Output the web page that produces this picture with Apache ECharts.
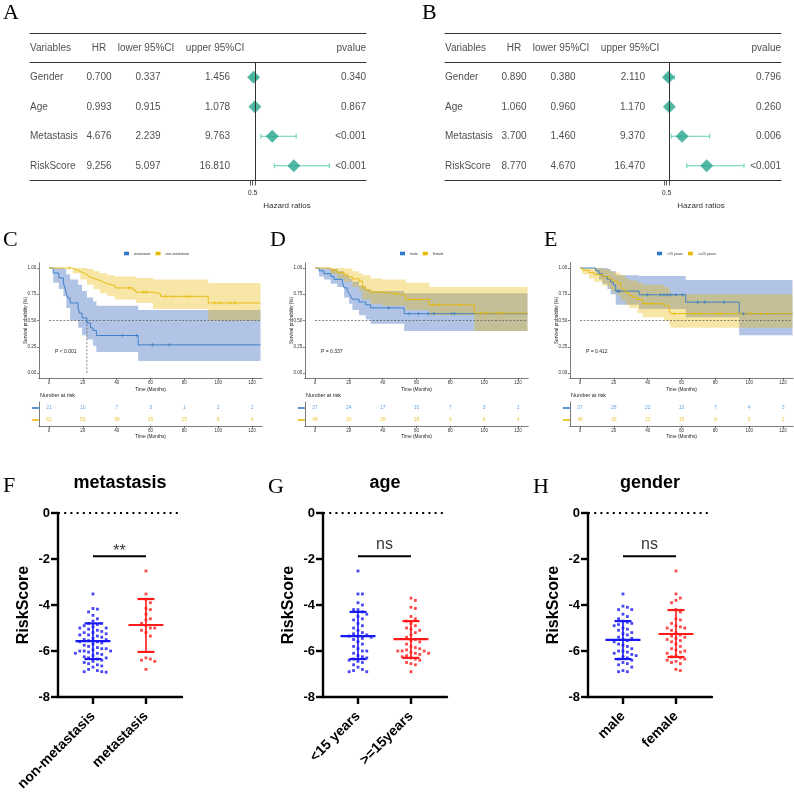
<!DOCTYPE html>
<html>
<head>
<meta charset="utf-8">
<title>Figure</title>
<script src="https://cdn.jsdelivr.net/npm/echarts@6.0.0/dist/echarts.min.js"></script>
<style>
html,body{margin:0;padding:0;background:#ffffff;}
#chart{width:794px;height:806px;}
</style>
</head>
<body>
<div id="chart"></div>
<script>
// ================= DATA =================
// Forest plots
const forestVars   = ['Gender', 'Age', 'Metastasis', 'RiskScore'];
const forestHeader = ['Variables', 'HR', 'lower 95%CI', 'upper 95%CI', 'pvalue'];
const hrA    = [0.700, 0.993, 4.676, 9.256];
const lowerA = [0.337, 0.915, 2.239, 5.097];
const upperA = [1.456, 1.078, 9.763, 16.810];
const pA     = ['0.340', '0.867', '<0.001', '<0.001'];
const hrB    = [0.890, 1.060, 3.700, 8.770];
const lowerB = [0.380, 0.960, 1.460, 4.670];
const upperB = [2.110, 1.170, 9.370, 16.470];
const pB     = ['0.796', '0.260', '0.006', '<0.001'];
const forestTicks = [0, 0.5, 1];
const forestTickLabels = [0.5];

// Kaplan-Meier: steps [time, survival]; bands [time, lower, upper]; censor marks [time, survival]
const kmTimeTicks = [0, 20, 40, 60, 80, 100, 120];
const kmSurvTicks = [0, 0.25, 0.5, 0.75, 1];
const kmHalf = 0.5;

const kmC_metaCurve  = [[0,1],[2.5,0.952],[5.8,0.905],[8.5,0.857],[9.5,0.81],[10.2,0.762],[11.2,0.714],[12.5,0.667],[17.2,0.619],[18,0.571],[19.5,0.524],[22.4,0.476],[24.5,0.429],[26,0.405],[28,0.357],[52.7,0.268],[125,0.268]];
const kmC_metaBand   = [[0,1,1],[2.5,0.86,1],[5.8,0.8,1],[8.5,0.73,0.99],[10.2,0.62,0.94],[12.5,0.5,0.89],[17.2,0.43,0.84],[19.5,0.36,0.78],[22.4,0.32,0.72],[26,0.26,0.68],[28,0.2,0.64],[52.7,0.115,0.6],[125,0.115,0.6]];
const kmC_metaCensor = [[43.4,0.357],[51.7,0.357],[61.1,0.268],[71,0.268]];
const kmC_nonCurve   = [[0,1],[14,0.984],[16,0.967],[18.5,0.95],[21,0.933],[22.5,0.917],[24,0.9],[26.5,0.883],[30,0.867],[32,0.85],[34.5,0.833],[38.9,0.81],[49.7,0.79],[51.3,0.77],[61.5,0.755],[65.9,0.73],[94.1,0.667],[125,0.667]];
const kmC_nonBand    = [[0,1,1],[14,0.95,1],[18.5,0.89,1],[22.5,0.84,0.99],[26.5,0.8,0.97],[30,0.76,0.95],[34.5,0.73,0.93],[38.9,0.7,0.92],[51.3,0.667,0.905],[61.5,0.61,0.89],[94.1,0.5,0.857],[125,0.5,0.857]];
const kmC_nonCensor  = [[12.2,1],[47.7,0.81],[56,0.77],[57.6,0.77],[68.8,0.73],[73.4,0.73],[81.3,0.73],[83.2,0.73],[98,0.667],[101,0.667],[107,0.667],[110,0.667]];
const kmC_median = 22.4;
const riskC_meta = [21, 10, 7, 3, 1, 1, 1];
const riskC_non  = [62, 53, 38, 25, 15, 8, 4];

const kmD_maleCurve  = [[0,1],[2.4,0.973],[5.3,0.946],[9.3,0.919],[11.2,0.892],[16.2,0.865],[17.2,0.811],[19.1,0.784],[20.1,0.757],[21.1,0.73],[22.1,0.703],[26,0.676],[30,0.649],[32.9,0.62],[52.7,0.565],[125.6,0.565]];
const kmD_maleBand   = [[0,1,1],[2.4,0.92,1],[5.3,0.89,1],[9.3,0.85,0.99],[13.2,0.82,0.97],[17.2,0.72,0.93],[20.1,0.66,0.9],[22.1,0.6,0.87],[26,0.55,0.83],[30,0.51,0.8],[32.9,0.47,0.78],[52.7,0.4,0.76],[125.6,0.4,0.76]];
const kmD_maleCensor = [[43.4,0.62],[55.6,0.565],[61.1,0.565],[66.9,0.565],[70.4,0.565],[80.9,0.565],[82.6,0.565]];
const kmD_femCurve   = [[0,1],[9.3,0.979],[13.2,0.958],[17.2,0.937],[19.1,0.917],[22.1,0.896],[26,0.875],[28,0.812],[30,0.79],[32.9,0.77],[39.8,0.755],[47.7,0.74],[53.6,0.7],[67.5,0.65],[94.1,0.57],[125.6,0.57]];
const kmD_femBand    = [[0,1,1],[9.3,0.94,1],[13.2,0.9,1],[17.2,0.87,0.995],[22.1,0.82,0.97],[26,0.78,0.95],[28,0.7,0.93],[32.9,0.66,0.9],[39.8,0.64,0.89],[53.6,0.6,0.86],[67.5,0.55,0.82],[94.1,0.4,0.82],[125.6,0.4,0.82]];
const kmD_femCensor  = [[47.7,0.755],[55.6,0.7],[58.6,0.7],[61.5,0.7],[69.4,0.65],[73.4,0.65],[85.2,0.65],[98,0.57],[101,0.57],[107.9,0.57],[110.5,0.57]];
const riskD_male = [37, 24, 17, 10, 7, 3, 1];
const riskD_fem  = [48, 30, 28, 18, 9, 6, 4];

const kmE_youngCurve  = [[0,1],[9.3,0.973],[11.2,0.946],[13.2,0.919],[16.2,0.892],[18.1,0.865],[19.7,0.838],[21.1,0.78],[34.9,0.745],[62.5,0.675],[94.1,0.565],[125.6,0.565]];
const kmE_youngBand   = [[0,1,1],[9.3,0.94,1],[11.2,0.89,1],[13.2,0.85,1],[16.2,0.8,0.99],[18.1,0.75,0.97],[21.1,0.65,0.93],[34.9,0.61,0.925],[62.5,0.53,0.885],[94.1,0.36,0.885],[125.6,0.36,0.885]];
const kmE_youngCensor = [[22.1,0.78],[23.1,0.78],[39.8,0.745],[47.7,0.745],[49.7,0.745],[51.7,0.745],[53.6,0.745],[56.6,0.745],[60.6,0.745],[69.4,0.675],[73.8,0.675],[85.2,0.675],[96.6,0.565]];
const kmE_oldCurve    = [[0,1],[1.4,0.979],[5.3,0.958],[8.3,0.937],[13.2,0.917],[17.2,0.896],[19.1,0.875],[22.1,0.854],[24.1,0.812],[25.1,0.79],[27,0.77],[29,0.74],[31,0.72],[34,0.7],[37,0.66],[49.7,0.64],[52.7,0.6],[53.6,0.565],[125.6,0.565]];
const kmE_oldBand     = [[0,1,1],[1.4,0.94,1],[5.3,0.9,1],[8.3,0.87,1],[13.2,0.83,0.99],[17.2,0.8,0.975],[19.1,0.77,0.96],[22.1,0.74,0.95],[24.1,0.69,0.93],[27,0.65,0.9],[29,0.62,0.88],[34,0.57,0.86],[37,0.53,0.84],[49.7,0.5,0.82],[52.7,0.46,0.79],[53.6,0.43,0.75],[125.6,0.43,0.75]];
const kmE_oldCensor   = [[38.9,0.66],[42.8,0.66],[55.6,0.565],[67.5,0.565],[71.4,0.565],[81.3,0.565],[83.2,0.565],[101,0.565],[106.9,0.565],[110.8,0.565]];
const riskE_young = [37, 28, 22, 13, 7, 4, 3];
const riskE_old   = [48, 30, 23, 15, 9, 5, 2];

// RiskScore dot plots
const catsF = ['non-metastasis', 'metastasis'];
const riskF_non  = [-3.52,-4.15,-4.18,-4.3,-4.45,-4.6,-4.7,-4.8,-4.8,-4.85,-4.9,-4.95,-5.0,-5.0,-5.05,-5.1,-5.15,-5.2,-5.2,-5.25,-5.3,-5.3,-5.35,-5.4,-5.45,-5.5,-5.5,-5.55,-5.6,-5.6,-5.65,-5.7,-5.75,-5.8,-5.85,-5.9,-5.9,-5.95,-6.0,-6.0,-6.0,-6.05,-6.1,-6.1,-6.15,-6.2,-6.25,-6.3,-6.3,-6.35,-6.4,-6.45,-6.5,-6.55,-6.6,-6.65,-6.7,-6.8,-6.85,-6.9,-6.9,-6.92];
const riskF_meta = [-2.52,-3.52,-3.75,-3.9,-4.15,-4.2,-4.4,-4.6,-4.65,-4.8,-4.9,-5.0,-5.0,-5.1,-5.2,-5.35,-6.3,-6.35,-6.4,-6.45,-6.8];
const meanF = [-5.57, -4.87];
const sdLoF = [-6.35, -6.04];
const sdHiF = [-4.8, -3.74];

const catsG = ['<15 years', '>=15years'];
const riskG_young = [-2.52,-3.52,-3.52,-3.9,-4.0,-4.2,-4.2,-4.3,-4.4,-4.5,-4.6,-4.65,-4.8,-4.9,-5.0,-5.1,-5.2,-5.25,-5.3,-5.35,-5.35,-5.4,-5.45,-5.5,-5.6,-5.7,-5.8,-5.9,-6.0,-6.0,-6.1,-6.2,-6.25,-6.3,-6.35,-6.4,-6.45,-6.5,-6.6,-6.7,-6.8,-6.85,-6.9,-6.9];
const riskG_old   = [-3.7,-3.8,-4.1,-4.15,-4.5,-4.6,-4.7,-4.8,-4.9,-5.0,-5.05,-5.1,-5.2,-5.3,-5.4,-5.5,-5.55,-5.6,-5.7,-5.8,-5.85,-5.9,-5.95,-6.0,-6.0,-6.0,-6.05,-6.1,-6.1,-6.15,-6.2,-6.25,-6.3,-6.35,-6.4,-6.5,-6.55,-6.6,-6.9];
const meanG = [-5.35, -5.48];
const sdLoG = [-6.35, -6.3];
const sdHiG = [-4.3, -4.7];

const catsH = ['male', 'female'];
const riskH_male   = [-3.52,-4.05,-4.1,-4.2,-4.2,-4.4,-4.5,-4.6,-4.7,-4.75,-4.8,-4.85,-4.9,-5.0,-5.05,-5.1,-5.2,-5.25,-5.3,-5.4,-5.45,-5.5,-5.55,-5.6,-5.7,-5.75,-5.8,-5.9,-6.0,-6.0,-6.05,-6.1,-6.15,-6.2,-6.25,-6.3,-6.35,-6.4,-6.5,-6.55,-6.6,-6.7,-6.85,-6.9,-6.9];
const riskH_female = [-2.52,-3.52,-3.7,-3.8,-3.9,-4.2,-4.3,-4.6,-4.65,-4.8,-4.9,-4.95,-5.0,-5.0,-5.1,-5.2,-5.3,-5.35,-5.4,-5.45,-5.5,-5.55,-5.6,-5.7,-5.8,-5.9,-5.95,-6.0,-6.05,-6.1,-6.2,-6.25,-6.3,-6.35,-6.4,-6.45,-6.5,-6.55,-6.8,-6.85];
const meanH = [-5.52, -5.26];
const sdLoH = [-6.35, -6.26];
const sdHiH = [-4.7, -4.22];

const sigLevel = -1.88;

// ================= LAYOUT / STYLE =================
const SANS = 'Liberation Sans, Arial, Helvetica, sans-serif';
const SERIF = 'Liberation Serif, Times New Roman, serif';
const TEAL = '#27a58c', TEAL_CI = '#62d0b6';
const KM_BLUE = '#3178c6', KM_BLUE_FILL = '#4472c4', KM_YEL = '#e7b800';
const RISK_BLUE = '#3d8edb';
const DOT_BLUE = '#1818f5', DOT_RED = '#ff1a1a';
const PLUS = 'path://M4,0H6V4H10V6H6V10H4V6H0V4H4Z';

const option = {
  animation: false,
  backgroundColor: '#ffffff',
  textStyle: { fontFamily: SANS },
  grid: [], xAxis: [], yAxis: [], series: [], legend: [],
  graphic: { elements: [] }
};
const GE = option.graphic.elements;
function txt(x, y, text, size, o) {
  o = o || {};
  const al = o.align || 'left';
  GE.push({ type: 'text', x: x, y: y, silent: true,
    style: { text: text, fontSize: size, fontFamily: o.family || SANS, fontWeight: o.weight || 'normal',
      fill: o.color || '#000', align: al, verticalAlign: 'middle', textAlign: al, textVerticalAlign: 'middle' } });
}
function addGrid(left, top, width, height) {
  option.grid.push({ left: left, top: top, width: width, height: height, containLabel: false, outerBoundsMode: 'none' });
  return option.grid.length - 1;
}
function addX(o) { option.xAxis.push(o); return option.xAxis.length - 1; }
function addY(o) { option.yAxis.push(o); return option.yAxis.length - 1; }
const NO = { show: false };

// ---------- Forest plots ----------
const colLayout = [
  { hx: 0,   ha: 'left',   vx: 0,   va: 'left' },
  { hx: 69,  ha: 'center', vx: 69,  va: 'center' },
  { hx: 116, ha: 'center', vx: 118, va: 'center' },
  { hx: 185, ha: 'center', vx: 200, va: 'right' },
  { hx: 336, ha: 'right',  vx: 336, va: 'right' }
];
function forestPanel(P) {
  const W = 336;
  const g1 = addGrid(P.left, 33, W, 147.5);
  const xt = addX({ gridIndex: g1, type: 'value', min: 0, max: W, position: 'top',
    axisLine: { show: true, onZero: false, lineStyle: { color: '#333', width: 1 } }, axisTick: NO, axisLabel: NO, splitLine: NO });
  const yt = addY({ gridIndex: g1, type: 'value', min: -0.5, max: 4.5, inverse: true, show: false });
  const colVals = [forestVars, P.hr.map(v => v.toFixed(3)), P.lo.map(v => v.toFixed(3)), P.up.map(v => v.toFixed(3)), P.p];
  colLayout.forEach((c, ci) => {
    const data = [{ name: forestHeader[ci], value: [c.hx, 0], label: { align: c.ha } }];
    colVals[ci].forEach((v, ri) => data.push({ name: v, value: [c.vx, ri + 1], label: { align: c.va } }));
    option.series.push({ type: 'scatter', xAxisIndex: xt, yAxisIndex: yt, symbolSize: 1, silent: true,
      itemStyle: { color: 'rgba(0,0,0,0)' }, data: data,
      label: { show: true, position: 'inside', verticalAlign: 'middle', formatter: p => p.name, fontSize: 10, color: '#222', fontFamily: SANS } });
  });
  const g2 = addGrid(P.left, 62.5, W, 118);
  const xmin = 1 - (P.zero - P.left) / P.ppu, xmax = 1 + (P.left + W - P.zero) / P.ppu;
  const xb = addX({ gridIndex: g2, type: 'value', min: xmin, max: xmax, position: 'bottom',
    axisLine: { show: true, onZero: false, lineStyle: { color: '#333', width: 1 } },
    axisTick: { show: true, customValues: forestTicks, length: 5, lineStyle: { color: '#333', width: 0.8 } },
    axisLabel: { show: true, customValues: forestTickLabels, fontSize: 7, color: '#333', margin: 9 }, splitLine: NO });
  addX({ gridIndex: g2, type: 'value', min: xmin, max: xmax, position: 'top',
    axisLine: { show: true, onZero: false, lineStyle: { color: '#333', width: 1 } }, axisTick: NO, axisLabel: NO, splitLine: NO });
  const yb = addY({ gridIndex: g2, type: 'value', min: 0.5, max: 4.5, inverse: true, show: false });
  option.series.push({ type: 'custom', xAxisIndex: xb, yAxisIndex: yb, silent: true, z: 2,
    data: forestVars.map((v, i) => [P.lo[i], i + 1, P.up[i]]), encode: { x: [0, 2], y: 1 },
    renderItem: (params, api) => {
      const a = api.coord([api.value(0), api.value(1)]);
      const b = api.coord([api.value(2), api.value(1)]);
      const s = { stroke: TEAL_CI, lineWidth: 1 };
      return { type: 'group', children: [
        { type: 'line', shape: { x1: a[0], y1: a[1], x2: b[0], y2: b[1] }, style: s },
        { type: 'line', shape: { x1: a[0], y1: a[1] - 2.5, x2: a[0], y2: a[1] + 2.5 }, style: s },
        { type: 'line', shape: { x1: b[0], y1: b[1] - 2.5, x2: b[0], y2: b[1] + 2.5 }, style: s } ] };
    },
    markLine: { silent: true, symbol: ['none', 'none'], label: NO, lineStyle: { color: '#333', type: 'solid', width: 1 }, data: [{ xAxis: 1 }] }
  });
  option.series.push({ type: 'scatter', xAxisIndex: xb, yAxisIndex: yb, silent: true, z: 4,
    symbol: 'diamond', symbolSize: 13, itemStyle: { color: TEAL },
    data: forestVars.map((v, i) => ({ name: v, value: [P.hr[i], i + 1] })) });
  txt(P.zero + 32, 206, 'Hazard ratios', 8, { align: 'center', color: '#333' });
}
forestPanel({ left: 30, zero: 255, ppu: 4.7, hr: hrA, lo: lowerA, up: upperA, p: pA });
forestPanel({ left: 445, zero: 669, ppu: 4.85, hr: hrB, lo: lowerB, up: upperB, p: pB });

// ---------- Kaplan-Meier panels ----------
const KM_PPU = 1.692, KM_TOP = 262.75, KM_H = 115.5;
function kmPanel(K) {
  const left = K.x0 - 6 * KM_PPU, width = 132 * KM_PPU;
  const axLine = { show: true, onZero: false, lineStyle: { color: '#222', width: 0.6 } };
  const tickSty = { color: '#222', width: 0.6 };
  const g = addGrid(left, KM_TOP, width, KM_H);
  const xi = addX({ gridIndex: g, type: 'value', min: -6, max: 126, axisLine: axLine,
    axisTick: { show: true, customValues: kmTimeTicks, length: 2, lineStyle: tickSty },
    axisLabel: { show: true, customValues: kmTimeTicks, fontSize: 4.5, color: '#333', margin: 2.5 }, splitLine: NO,
    name: 'Time (Months)', nameLocation: 'middle', nameGap: 8.5, nameMoveOverlap: false, nameTextStyle: { fontSize: 4.8, color: '#222' } });
  const yi = addY({ gridIndex: g, type: 'value', min: -0.05, max: 1.05, axisLine: axLine,
    axisTick: { show: true, customValues: kmSurvTicks, length: 2, lineStyle: tickSty },
    axisLabel: { show: true, customValues: kmSurvTicks, formatter: v => Number(v).toFixed(2), fontSize: 4.5, color: '#333', margin: 2.5 },
    splitLine: NO, name: 'Survival probability (%)', nameLocation: 'middle', nameGap: 11, nameMoveOverlap: false,
    nameTextStyle: { fontSize: 4.6, color: '#222' } });
  // confidence bands (step polygons through the axes' scales)
  K.groups.forEach(gr => {
    option.series.push({ type: 'custom', name: gr.name + ' CI', xAxisIndex: xi, yAxisIndex: yi, silent: true, z: 1, clip: true,
      data: gr.band, encode: { x: 0, y: [1, 2] },
      renderItem: (params, api) => {
        if (params.dataIndex !== 0) return null;
        const B = gr.band, pts = [];
        for (let i = 0; i < B.length - 1; i++) { pts.push(api.coord([B[i][0], B[i][2]])); pts.push(api.coord([B[i + 1][0], B[i][2]])); }
        for (let i = B.length - 2; i >= 0; i--) { pts.push(api.coord([B[i + 1][0], B[i][1]])); pts.push(api.coord([B[i][0], B[i][1]])); }
        return { type: 'polygon', shape: { points: pts }, style: { fill: gr.fill, opacity: gr.alpha } };
      } });
  });
  const endT = K.groups[0].curve[K.groups[0].curve.length - 1][0];
  const dash = { color: '#555', width: 0.7, type: [2, 1.6] };
  option.series.push({ type: 'line', xAxisIndex: xi, yAxisIndex: yi, symbol: 'none', silent: true, lineStyle: dash, z: 2,
    data: [[0, kmHalf], [endT, kmHalf]] });
  if (K.median != null) {
    option.series.push({ type: 'line', xAxisIndex: xi, yAxisIndex: yi, symbol: 'none', silent: true, lineStyle: dash, z: 2,
      data: [[K.median, kmHalf], [K.median, 0]] });
  }
  K.groups.forEach(gr => {
    option.series.push({ type: 'line', name: gr.name, xAxisIndex: xi, yAxisIndex: yi, step: 'end', symbol: 'none', showSymbol: false,
      silent: true, lineStyle: { color: gr.color, width: 0.9 }, itemStyle: { color: gr.color }, data: gr.curve, z: 3 });
    option.series.push({ type: 'scatter', xAxisIndex: xi, yAxisIndex: yi, symbol: PLUS, symbolSize: 3.6, silent: true,
      itemStyle: { color: gr.color }, data: gr.censor, z: 4 });
  });
  option.legend.push({ data: K.groups.map(g => g.name), left: K.legendLeft, top: 251.5, orient: 'horizontal', padding: 0,
    itemWidth: 5, itemHeight: 3.6, itemGap: 5, icon: 'rect', selectedMode: false,
    textStyle: { fontSize: 3.6, color: '#333', fontFamily: SANS } });
  txt(K.x0 + 6, 352, K.p, 5, { color: '#222' });
  // risk table
  txt(K.x0 - 9, 396, 'Number at risk', 5.4, { color: '#222' });
  const gr2 = addGrid(left, 402, width, 24);
  const xr = addX({ gridIndex: gr2, type: 'value', min: -6, max: 126, axisLine: axLine,
    axisTick: { show: true, customValues: kmTimeTicks, length: 2, lineStyle: tickSty },
    axisLabel: { show: true, customValues: kmTimeTicks, fontSize: 4.5, color: '#333', margin: 2.5 }, splitLine: NO,
    name: 'Time (Months)', nameLocation: 'middle', nameGap: 8.5, nameMoveOverlap: false, nameTextStyle: { fontSize: 4.8, color: '#222' } });
  const yr = addY({ gridIndex: gr2, type: 'value', min: -0.5, max: 1.5, inverse: true,
    axisLine: axLine, axisTick: NO, splitLine: NO,
    axisLabel: { show: true, customValues: [0, 1], margin: 0, formatter: v => (Number(v) === 0 ? '{a| }' : '{b| }'),
      rich: { a: { backgroundColor: K.groups[0].color, width: 7, height: 1.6, lineHeight: 1.6, fontSize: 1 },
              b: { backgroundColor: K.groups[1].color, width: 7, height: 1.6, lineHeight: 1.6, fontSize: 1 } } } });
  [[0, K.risk[0], RISK_BLUE], [1, K.risk[1], KM_YEL]].forEach(r => {
    option.series.push({ type: 'scatter', xAxisIndex: xr, yAxisIndex: yr, symbolSize: 1, silent: true,
      itemStyle: { color: 'rgba(0,0,0,0)' },
      data: kmTimeTicks.map((t, i) => ({ name: String(r[1][i]), value: [t, r[0]] })),
      label: { show: true, position: 'inside', formatter: p => p.name, fontSize: 5, color: r[2], fontFamily: SANS } });
  });
}
function grp(name, curve, band, censor, color, fill, alpha) { return { name, curve, band, censor, color, fill, alpha }; }
kmPanel({ id: 'C', x0: 49, legendLeft: 124, p: 'P < 0.001', median: kmC_median, risk: [riskC_meta, riskC_non],
  groups: [grp('metastase', kmC_metaCurve, kmC_metaBand, kmC_metaCensor, KM_BLUE, KM_BLUE_FILL, 0.42),
           grp('non-metastase', kmC_nonCurve, kmC_nonBand, kmC_nonCensor, KM_YEL, KM_YEL, 0.35)] });
kmPanel({ id: 'D', x0: 315, legendLeft: 400, p: 'P = 0.337', median: null, risk: [riskD_male, riskD_fem],
  groups: [grp('male', kmD_maleCurve, kmD_maleBand, kmD_maleCensor, KM_BLUE, KM_BLUE_FILL, 0.42),
           grp('female', kmD_femCurve, kmD_femBand, kmD_femCensor, KM_YEL, KM_YEL, 0.35)] });
kmPanel({ id: 'E', x0: 580, legendLeft: 657, p: 'P = 0.412', median: null, risk: [riskE_young, riskE_old],
  groups: [grp('<15 years', kmE_youngCurve, kmE_youngBand, kmE_youngCensor, KM_BLUE, KM_BLUE_FILL, 0.42),
           grp('>=15 years', kmE_oldCurve, kmE_oldBand, kmE_oldCensor, KM_YEL, KM_YEL, 0.35)] });

// ---------- Dot plots ----------
const DOT_W = 124, DOT_H = 184, DOT_XMIN = -0.66, DOT_XMAX = 1.68;
const PX_X = DOT_W / (DOT_XMAX - DOT_XMIN), PX_Y = DOT_H / 8;
function swarm(vals) {
  const order = vals.map((v, i) => i).sort((a, b) => vals[b] - vals[a]);
  const placed = [], off = new Array(vals.length).fill(0);
  const step = 4.4, minDy = 5.2, minDx = 4.0;
  order.forEach(i => {
    const y = vals[i] * PX_Y;
    for (let k = 0; k < 60; k++) {
      const dx = (k === 0 ? 0 : (k % 2 ? 1 : -1) * Math.ceil(k / 2)) * step;
      if (!placed.some(p => Math.abs(p[1] - y) < minDy && Math.abs(p[0] - dx) < minDx)) {
        placed.push([dx, y]); off[i] = dx / PX_X; break;
      }
    }
  });
  return off;
}
function dotPanel(D) {
  const ax = { color: '#000', width: 2.4 };
  const g = addGrid(D.left, 513, DOT_W, DOT_H);
  const xi = addX({ gridIndex: g, type: 'value', min: DOT_XMIN, max: DOT_XMAX,
    axisLine: { show: true, onZero: false, lineStyle: ax },
    axisTick: { show: true, customValues: [0, 1], length: 7, lineStyle: ax },
    axisLabel: { show: true, customValues: [0, 1], formatter: v => D.cats[Math.round(Number(v))], rotate: 45,
      fontSize: 14, fontWeight: 'bold', color: '#000', margin: 17 }, splitLine: NO });
  const yi = addY({ gridIndex: g, type: 'value', min: -8, max: 0, interval: 2,
    axisLine: { show: true, onZero: false, lineStyle: ax },
    axisTick: { show: true, length: 7, lineStyle: ax },
    axisLabel: { show: true, fontSize: 13, fontWeight: 'bold', color: '#000', margin: 8 }, splitLine: NO,
    name: 'RiskScore', nameLocation: 'middle', nameGap: 26, nameTextStyle: { fontSize: 16, fontWeight: 'bold', color: '#000' } });
  const colors = [DOT_BLUE, DOT_RED];
  D.groups.forEach((vals, gi) => {
    const off = swarm(vals);
    const s = { type: 'scatter', xAxisIndex: xi, yAxisIndex: yi, symbol: 'rect', symbolSize: 2.8, silent: true,
      itemStyle: { color: colors[gi] }, data: vals.map((v, i) => [gi + off[i], v]), z: 3 };
    if (gi === 0) s.markLine = { silent: true, symbol: ['none', 'none'], label: NO,
      lineStyle: { color: '#000', type: [2, 4.2], width: 2 }, data: [{ yAxis: 0 }] };
    option.series.push(s);
    option.series.push({ type: 'custom', xAxisIndex: xi, yAxisIndex: yi, silent: true, z: 4,
      data: [[gi, D.mean[gi], D.lo[gi], D.hi[gi]]], encode: { x: 0, y: [1, 2, 3] },
      renderItem: (params, api) => {
        const c = api.value(0);
        const m1 = api.coord([c - 0.33, api.value(1)]), m2 = api.coord([c + 0.33, api.value(1)]);
        const l1 = api.coord([c - 0.16, api.value(2)]), l2 = api.coord([c + 0.16, api.value(2)]);
        const h1 = api.coord([c - 0.16, api.value(3)]), h2 = api.coord([c + 0.16, api.value(3)]);
        const lc = api.coord([c, api.value(2)]), hc = api.coord([c, api.value(3)]);
        const st = { stroke: colors[gi], lineWidth: 2.2 };
        return { type: 'group', children: [
          { type: 'line', shape: { x1: m1[0], y1: m1[1], x2: m2[0], y2: m2[1] }, style: st },
          { type: 'line', shape: { x1: lc[0], y1: lc[1], x2: hc[0], y2: hc[1] }, style: { stroke: colors[gi], lineWidth: 1.6 } },
          { type: 'line', shape: { x1: l1[0], y1: l1[1], x2: l2[0], y2: l2[1] }, style: st },
          { type: 'line', shape: { x1: h1[0], y1: h1[1], x2: h2[0], y2: h2[1] }, style: st } ] };
      } });
  });
  option.series.push({ type: 'line', xAxisIndex: xi, yAxisIndex: yi, symbol: 'none', silent: true,
    lineStyle: { color: '#000', width: 2 }, data: [[0, sigLevel], [1, sigLevel]], z: 3 });
  option.series.push({ type: 'scatter', xAxisIndex: xi, yAxisIndex: yi, symbolSize: 1, silent: true,
    itemStyle: { color: 'rgba(0,0,0,0)' }, data: [{ name: D.sig, value: [0.5, sigLevel] }],
    label: { show: true, position: 'top', distance: D.sigGap, formatter: p => p.name, fontSize: 16, color: '#000', fontFamily: SANS } });
  txt(D.left + DOT_W / 2, 483, D.title, 18, { align: 'center', weight: 'bold' });
}
dotPanel({ left: 58, title: 'metastasis', cats: catsF, groups: [riskF_non, riskF_meta], mean: meanF, lo: sdLoF, hi: sdHiF, sig: '**', sigGap: -4 });
dotPanel({ left: 323, title: 'age', cats: catsG, groups: [riskG_young, riskG_old], mean: meanG, lo: sdLoG, hi: sdHiG, sig: 'ns', sigGap: 3 });
dotPanel({ left: 588, title: 'gender', cats: catsH, groups: [riskH_male, riskH_female], mean: meanH, lo: sdLoH, hi: sdHiH, sig: 'ns', sigGap: 3 });

// ---------- Panel letters ----------
[['A', 3, 13], ['B', 422, 13], ['C', 3, 240], ['D', 270, 240], ['E', 544, 240], ['F', 3, 486], ['G', 268, 487], ['H', 533, 487]]
  .forEach(l => txt(l[1], l[2], l[0], 22, { family: SERIF }));

const chart = echarts.init(document.getElementById('chart'), null, { renderer: 'canvas' });
chart.setOption(option);
</script>
</body>
</html>
